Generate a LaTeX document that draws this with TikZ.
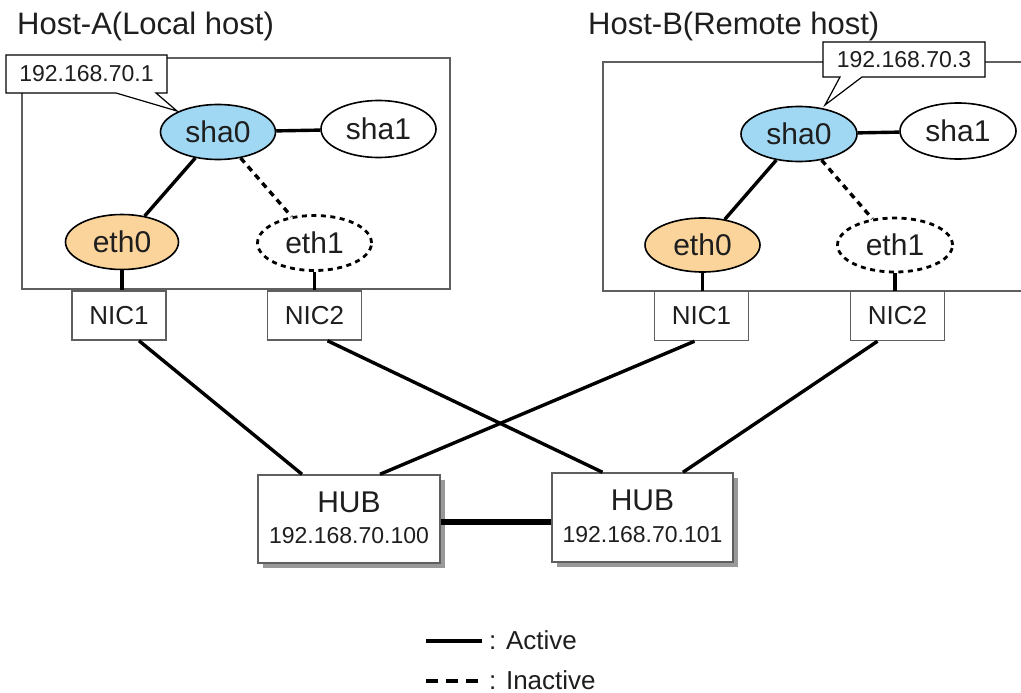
\documentclass[tikz,border=0pt]{standalone}
\usepackage{fontspec}
\setmainfont{Liberation Sans}
\usetikzlibrary{shapes.geometric,calc,shadows}
\definecolor{shablue}{RGB}{160,216,244}
\definecolor{ethorange}{RGB}{250,212,155}
\definecolor{boxgray}{RGB}{95,95,95}
\definecolor{txt}{RGB}{30,30,30}
\begin{document}
\begin{tikzpicture}[x=1pt,y=-1pt,
  hostbox/.style={draw=boxgray, line width=1.8pt, inner sep=0},
  ifc/.style={ellipse, draw=black, line width=1.6pt, inner sep=0, text=txt,
              font=\fontsize{30}{30}\selectfont},
  ifcdash/.style={ifc, line width=2.8pt, dash pattern=on 5pt off 4.5pt},
  active/.style={line width=3.4pt},
  inactive/.style={line width=3.4pt, dash pattern=on 6pt off 5pt},
  link/.style={line width=6pt},
  nicbox/.style={draw=boxgray, line width=1.5pt, fill=white, inner sep=0,
              minimum width=94, minimum height=49, text=txt,
              font=\fontsize{26}{26}\selectfont},
  hubbox/.style={draw=boxgray, line width=1.5pt, fill=white, inner sep=0,
              drop shadow={shadow xshift=5pt, shadow yshift=-5pt, fill=gray!80, opacity=1}},
  callout/.style={draw=black, line width=1.2pt, fill=white},
  lbl/.style={text=txt, inner sep=0},
]
\clip (0,0) rectangle (1021,693);

% titles
\node[lbl, anchor=base west, font=\fontsize{31}{31}\selectfont] (tA) at (17,35) {Host-A(Local host)};
\node[lbl, anchor=base west, font=\fontsize{31}{31}\selectfont] (tB) at (588,35) {Host-B(Remote host)};

% host boxes
\node[hostbox, minimum width=428, minimum height=231] (boxA) at (236,173.5) {};
\node[hostbox, minimum width=440, minimum height=229] (boxB) at (823,176.5) {};

% callouts
\path[callout] (6,55) -- (167,55) -- (167,93) -- (156,93) -- (177,111) -- (116,93) -- (6,93) -- cycle;
\node[lbl, font=\fontsize{23}{23}\selectfont] (ipA) at (86.5,74) {192.168.70.1};
\path[callout] (823,42) -- (985,42) -- (985,77) -- (862,77) -- (825,105) -- (840,77) -- (823,77) -- cycle;
\node[lbl, font=\fontsize{23}{23}\selectfont] (ipB) at (904,59.5) {192.168.70.3};

% Host A interfaces
\node[ifc, fill=shablue, minimum width=115, minimum height=55] (sha0A) at (218,132) {sha0};
\node[ifc, fill=white, minimum width=115, minimum height=57] (sha1A) at (378.5,129) {sha1};
\node[ifc, fill=ethorange, minimum width=113, minimum height=55] (eth0A) at (122,242) {eth0};
\node[ifcdash, fill=white, minimum width=114, minimum height=55] (eth1A) at (314.5,243) {eth1};

% Host B interfaces
\node[ifc, fill=shablue, minimum width=116, minimum height=55] (sha0B) at (799,134) {sha0};
\node[ifc, fill=white, minimum width=116, minimum height=56] (sha1B) at (958,131) {sha1};
\node[ifc, fill=ethorange, minimum width=115, minimum height=54] (eth0B) at (702.5,245) {eth0};
\node[ifcdash, fill=white, minimum width=115, minimum height=54] (eth1B) at (895,245) {eth1};

% NICs
\node[nicbox] (nic1A) at (119,315.5) {NIC1};
\node[nicbox] (nic2A) at (314.5,315.5) {NIC2};
\node[nicbox] (nic1B) at (701.5,316) {NIC1};
\node[nicbox] (nic2B) at (897.5,316) {NIC2};

% hubs
\node[hubbox, minimum width=182, minimum height=88] (hubL) at (349,519) {};
\node[hubbox, minimum width=181, minimum height=89] (hubR) at (642.5,517.5) {};
\node[lbl, anchor=base, font=\fontsize{30}{30}\selectfont] (hubLt) at ($(hubL.center)+(0,-7)$) {HUB};
\node[lbl, anchor=base, font=\fontsize{23}{23}\selectfont] (hubLip) at ($(hubL.center)+(0,24)$) {192.168.70.100};
\node[lbl, anchor=base, font=\fontsize{30}{30}\selectfont] (hubRt) at ($(hubR.center)+(0,-7.5)$) {HUB};
\node[lbl, anchor=base, font=\fontsize{23}{23}\selectfont] (hubRip) at ($(hubR.center)+(0,24.5)$) {192.168.70.101};

% connectors inside hosts
\draw[active] (sha0A) -- (sha1A);
\draw[active] (sha0A) -- (eth0A);
\draw[inactive] (sha0A) -- (eth1A);
\draw[active] (eth0A.south) -- (eth0A.south |- nic1A.north);
\draw[active] (eth1A.south) -- (eth1A.south |- nic2A.north);
\draw[active] (sha0B) -- (sha1B);
\draw[active] (sha0B) -- (eth0B);
\draw[inactive] (sha0B) -- (eth1B);
\draw[active] (eth0B.south) -- (eth0B.south |- nic1B.north);
\draw[active] (eth1B.south) -- (eth1B.south |- nic2B.north);

% NIC to hub
\draw[active] ($(nic1A.south)+(20,0)$) -- ($(hubL.north)+(-47,0)$);
\draw[active] ($(nic2A.south)+(13,0)$) -- ($(hubR.north)+(-40,0)$);
\draw[active] ($(nic1B.south)+(-7,0)$) -- ($(hubL.north)+(31,0)$);
\draw[active] ($(nic2B.south)+(-20,0)$) -- ($(hubR.north)+(40.5,0)$);

% hub link
\draw[link] ($(hubL.east)+(0,3)$) -- ($(hubR.west)+(0,4.5)$);

% legend
\coordinate (la1) at (426,641);
\coordinate (la2) at (482,641);
\coordinate (li1) at (426,681);
\coordinate (li2) at (482,681);
\draw[line width=3.4pt] (la1) -- (la2);
\draw[line width=3.4pt, dash pattern=on 12pt off 8pt] (li1) -- (li2);
\node[lbl, anchor=base west, font=\fontsize{26}{26}\selectfont] (lact) at (489,649) {: Active};
\node[lbl, anchor=base west, font=\fontsize{26}{26}\selectfont] (linact) at (489,689) {: Inactive};
\end{tikzpicture}
\end{document}
